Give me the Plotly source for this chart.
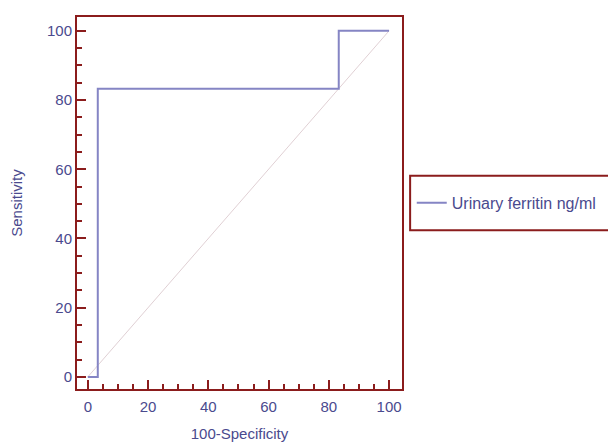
import plotly.graph_objects as go

# ROC curve data
fpr = [0, 3.3, 3.3, 83.3, 83.3, 100]          # 100-Specificity
tpr = [0, 0, 83.3, 83.3, 100, 100]            # Sensitivity
diag_x = [0, 100]
diag_y = [0, 100]
series_name = "Urinary ferritin ng/ml"
tick_vals = [0, 20, 40, 60, 80, 100]

axis_red = "#8b1c1c"
label_blue = "#4a4a8e"
line_blue = "#8585c4"
font_family = "Liberation Sans, Arial, sans-serif"

fig = go.Figure()
fig.add_trace(go.Scatter(x=diag_x, y=diag_y, mode="lines",
                         line=dict(color="#e0d0d4", width=1),
                         showlegend=False, hoverinfo="skip"))
fig.add_trace(go.Scatter(x=fpr, y=tpr, mode="lines", name=series_name,
                         line=dict(color=line_blue, width=2)))

axis_common = dict(
    showgrid=False, zeroline=False, automargin=False,
    showline=True, linecolor=axis_red, linewidth=2, mirror=True,
    ticks="inside", ticklen=9, tickwidth=2, tickcolor=axis_red,
    tickvals=tick_vals,
    tickfont=dict(family=font_family, size=15, color=label_blue),
    minor=dict(ticks="inside", dtick=5, ticklen=5, tickwidth=2, tickcolor=axis_red),
)

# legend frame: open on the right (it runs off the image edge in the original)
bx0, bx1, by0, by1 = 1.025, 1.8, 0.427, 0.573
legend_frame = f"M {bx1},{by1} L {bx0},{by1} L {bx0},{by0} L {bx1},{by0}"

fig.update_layout(
    width=608, height=434,
    margin=dict(l=69, r=214, t=9, b=53, autoexpand=False),
    paper_bgcolor="white", plot_bgcolor="white",
    xaxis=dict(range=[-3.6, 104.3], ticklabelstandoff=3,
               title=dict(text="100-Specificity", standoff=19,
                          font=dict(family=font_family, size=15, color=label_blue)),
               **axis_common),
    yaxis=dict(range=[-3.5, 104],
               title=dict(text="Sensitivity", standoff=21,
                          font=dict(family=font_family, size=15, color=label_blue)),
               **axis_common),
    legend=dict(x=1.03, y=0.546, xanchor="left", yanchor="top",
                bgcolor="rgba(0,0,0,0)", borderwidth=0,
                font=dict(family=font_family, size=16, color=label_blue)),
    shapes=[dict(type="path", xref="paper", yref="paper", path=legend_frame,
                 line=dict(color=axis_red, width=2))],
)

fig.write_html("out.html")
